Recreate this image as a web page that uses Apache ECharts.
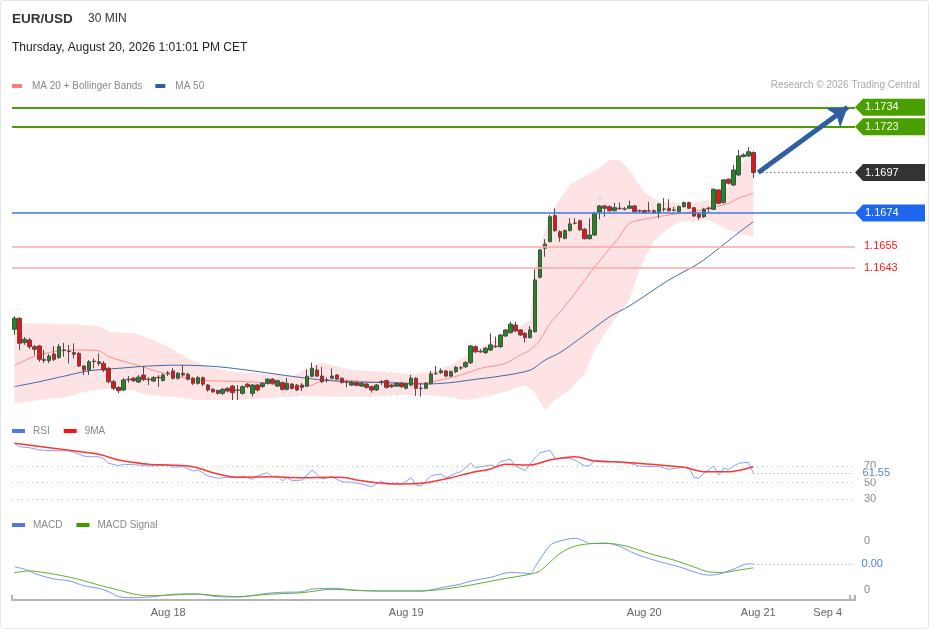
<!DOCTYPE html>
<html><head><meta charset="utf-8">
<script src="https://cdn.jsdelivr.net/npm/echarts@6/dist/echarts.min.js"></script>
<style>
html,body{margin:0;padding:0;background:#fff;}
#c{width:929px;height:629px;}
#frame{position:absolute;left:0;top:0;width:929px;height:629px;box-sizing:border-box;border:1px solid #e3e8ee;border-radius:3px;pointer-events:none;}
</style></head><body>
<div id="c"></div><div id="frame"></div>
<script>
// ---------- DATA ----------
const candleOpen = [1.16080,1.16142,1.16004,1.16019,1.15981,1.15985,1.15909,1.15901,1.15939,1.15920,
1.15959,1.15956,1.15947,1.15943,1.15871,1.15848,1.15899,1.15895,1.15886,1.15858,
1.15782,1.15749,1.15735,1.15796,1.15802,1.15780,1.15820,1.15796,1.15786,1.15807,
1.15789,1.15831,1.15843,1.15802,1.15830,1.15824,1.15802,1.15773,1.15805,1.15763,
1.15739,1.15732,1.15716,1.15744,1.15757,1.15735,1.15716,1.15768,1.15716,1.15763,
1.15755,1.15773,1.15796,1.15757,1.15777,1.15739,1.15769,1.15762,1.15763,1.15757,
1.15813,1.15848,1.15814,1.15792,1.15802,1.15820,1.15802,1.15782,1.15763,1.15777,
1.15757,1.15769,1.15754,1.15735,1.15782,1.15788,1.15763,1.15757,1.15773,1.15745,
1.15763,1.15802,1.15745,1.15745,1.15773,1.15830,1.15833,1.15843,1.15814,1.15839,
1.15861,1.15867,1.15890,1.15981,1.15955,1.15947,1.15962,1.15983,1.15981,1.16042,
1.16060,1.16104,1.16076,1.16057,1.16032,1.16066,1.16375,1.16540,1.16577,1.16725,
1.16634,1.16596,1.16640,1.16683,1.16696,1.16648,1.16594,1.16615,1.16746,1.16780,
1.16776,1.16753,1.16767,1.16763,1.16767,1.16780,1.16753,1.16753,1.16753,1.16753,
1.16742,1.16763,1.16767,1.16757,1.16748,1.16776,1.16799,1.16770,1.16734,1.16719,
1.16767,1.16761,1.16871,1.16799,1.16932,1.16899,1.16956,1.17060,1.17064,1.17083];
const candleClose = [1.16142,1.16000,1.16023,1.15981,1.15966,1.15909,1.15903,1.15928,1.15909,1.15981,
1.15962,1.15953,1.15938,1.15871,1.15848,1.15895,1.15896,1.15886,1.15848,1.15782,
1.15745,1.15731,1.15792,1.15793,1.15788,1.15808,1.15794,1.15794,1.15805,1.15804,
1.15820,1.15830,1.15802,1.15830,1.15820,1.15796,1.15773,1.15805,1.15768,1.15735,
1.15725,1.15716,1.15739,1.15729,1.15720,1.15733,1.15754,1.15754,1.15763,1.15735,
1.15773,1.15796,1.15773,1.15788,1.15739,1.15773,1.15744,1.15735,1.15750,1.15813,
1.15858,1.15814,1.15782,1.15790,1.15814,1.15797,1.15777,1.15780,1.15779,1.15762,
1.15773,1.15750,1.15735,1.15763,1.15781,1.15750,1.15754,1.15773,1.15754,1.15769,
1.15802,1.15745,1.15743,1.15773,1.15826,1.15828,1.15844,1.15814,1.15839,1.15864,
1.15860,1.15890,1.15985,1.15952,1.15952,1.15972,1.15991,1.15981,1.16047,1.16076,
1.16109,1.16070,1.16047,1.16032,1.16076,1.16360,1.16530,1.16564,1.16719,1.16640,
1.16602,1.16640,1.16678,1.16682,1.16644,1.16594,1.16615,1.16738,1.16780,1.16767,
1.16753,1.16770,1.16766,1.16762,1.16780,1.16748,1.16752,1.16742,1.16752,1.16742,
1.16791,1.16761,1.16753,1.16755,1.16776,1.16799,1.16767,1.16723,1.16716,1.16761,
1.16765,1.16875,1.16795,1.16928,1.16909,1.16984,1.17064,1.17070,1.17088,1.16970];
const candleHigh = [1.16155,1.16149,1.16036,1.16030,1.15991,1.15991,1.15962,1.15939,1.15985,1.15996,
1.16002,1.15991,1.16000,1.15951,1.15876,1.15905,1.15915,1.15943,1.15899,1.15865,
1.15792,1.15757,1.15803,1.15814,1.15808,1.15820,1.15871,1.15808,1.15814,1.15820,
1.15830,1.15843,1.15860,1.15837,1.15876,1.15834,1.15808,1.15814,1.15811,1.15769,
1.15746,1.15738,1.15746,1.15752,1.15763,1.15763,1.15760,1.15775,1.15769,1.15769,
1.15780,1.15803,1.15803,1.15794,1.15783,1.15803,1.15775,1.15769,1.15775,1.15852,
1.15890,1.15876,1.15867,1.15807,1.15858,1.15826,1.15807,1.15792,1.15786,1.15783,
1.15780,1.15775,1.15760,1.15769,1.15792,1.15794,1.15769,1.15780,1.15780,1.15775,
1.15820,1.15808,1.15773,1.15780,1.15844,1.15871,1.15858,1.15848,1.15846,1.15871,
1.15871,1.15899,1.15991,1.15988,1.15968,1.15979,1.16057,1.16038,1.16053,1.16081,
1.16123,1.16123,1.16081,1.16064,1.16098,1.16420,1.16536,1.16591,1.16729,1.16767,
1.16641,1.16646,1.16710,1.16710,1.16703,1.16655,1.16710,1.16746,1.16786,1.16786,
1.16783,1.16797,1.16799,1.16774,1.16810,1.16786,1.16760,1.16760,1.16804,1.16760,
1.16797,1.16824,1.16818,1.16776,1.16783,1.16805,1.16805,1.16774,1.16740,1.16769,
1.16776,1.16879,1.16876,1.16933,1.16936,1.17013,1.17098,1.17079,1.17113,1.17089];
const candleLow = [1.16048,1.15962,1.15991,1.15968,1.15934,1.15895,1.15888,1.15888,1.15899,1.15911,
1.15924,1.15886,1.15915,1.15865,1.15820,1.15820,1.15858,1.15871,1.15837,1.15773,
1.15735,1.15716,1.15729,1.15777,1.15780,1.15775,1.15786,1.15763,1.15780,1.15752,
1.15783,1.15814,1.15794,1.15794,1.15811,1.15789,1.15763,1.15766,1.15757,1.15726,
1.15718,1.15709,1.15706,1.15721,1.15678,1.15678,1.15709,1.15746,1.15697,1.15726,
1.15746,1.15766,1.15766,1.15752,1.15732,1.15732,1.15738,1.15729,1.15729,1.15752,
1.15808,1.15808,1.15775,1.15777,1.15797,1.15792,1.15772,1.15750,1.15757,1.15755,
1.15752,1.15743,1.15720,1.15729,1.15763,1.15743,1.15746,1.15752,1.15746,1.15738,
1.15757,1.15701,1.15697,1.15738,1.15766,1.15820,1.15826,1.15808,1.15808,1.15831,
1.15848,1.15860,1.15882,1.15945,1.15945,1.15939,1.15956,1.15973,1.15973,1.16036,
1.16056,1.16064,1.16042,1.16004,1.16027,1.16061,1.16368,1.16492,1.16573,1.16632,
1.16577,1.16590,1.16635,1.16675,1.16638,1.16590,1.16590,1.16610,1.16704,1.16719,
1.16746,1.16749,1.16757,1.16754,1.16763,1.16743,1.16742,1.16737,1.16740,1.16734,
1.16710,1.16748,1.16749,1.16749,1.16743,1.16771,1.16763,1.16717,1.16700,1.16712,
1.16742,1.16757,1.16791,1.16794,1.16902,1.16893,1.16950,1.17055,1.17058,1.16939];

// [candle index, value] readings of the indicator lines
const ma20 = [[0,1.15873],[3,1.15915],[5,1.15934],[9,1.15958],[13,1.15962],[17,1.15958],[19,1.15924],[24,1.15882],[29,1.15839],[33,1.15811],[37,1.15792],[41,1.15786],[47,1.15782],[51,1.15773],[56,1.15750],[60,1.15763],[62,1.15788],[66,1.15792],[71,1.15782],[78,1.15777],[82,1.15773],[86,1.15792],[90,1.15820],[94,1.15858],[99,1.15886],[102,1.15934],[104,1.15962],[106,1.16020],[108,1.16113],[110,1.16178],[112,1.16246],[116,1.16397],[119,1.16502],[122,1.16606],[124,1.16681],[128,1.16710],[132,1.16729],[137,1.16748],[140,1.16767],[144,1.16795],[146,1.16824],[149,1.16852]];
const ma50 = [[0,1.15754],[5,1.15782],[11,1.15820],[15,1.15844],[21,1.15858],[27,1.15871],[33,1.15876],[41,1.15867],[48,1.15844],[54,1.15820],[58,1.15805],[62,1.15792],[67,1.15782],[74,1.15777],[83,1.15769],[88,1.15777],[92,1.15792],[98,1.15814],[104,1.15848],[107,1.15905],[110,1.15947],[115,1.16047],[120,1.16151],[124,1.16212],[132,1.16360],[138,1.16454],[142,1.16538],[145,1.16606],[149,1.16691]];
const bbUpper = [[0,1.16117],[3,1.16114],[11,1.16110],[17,1.16098],[19,1.16066],[24,1.16057],[27,1.16029],[31,1.15981],[35,1.15915],[39,1.15867],[44,1.15839],[51,1.15826],[56,1.15814],[59,1.15858],[62,1.15890],[68,1.15848],[74,1.15839],[80,1.15826],[84,1.15839],[88,1.15876],[92,1.15943],[98,1.16038],[102,1.16095],[104,1.16132],[105,1.16435],[107,1.16644],[109,1.16776],[112,1.16899],[115,1.16950],[118,1.16996],[120,1.17041],[122,1.17041],[124,1.16984],[127,1.16859],[130,1.16804],[136,1.16795],[140,1.16814],[144,1.16890],[146,1.17003],[149,1.17098]];
const bbLower = [[0,1.15659],[5,1.15678],[11,1.15697],[14,1.15725],[19,1.15745],[24,1.15731],[27,1.15706],[32,1.15697],[37,1.15678],[44,1.15678],[51,1.15688],[58,1.15701],[64,1.15697],[71,1.15697],[78,1.15706],[83,1.15706],[87,1.15697],[91,1.15678],[95,1.15697],[99,1.15725],[103,1.15763],[105,1.15716],[107,1.15621],[109,1.15678],[112,1.15735],[115,1.15830],[117,1.15962],[120,1.16095],[124,1.16246],[126,1.16416],[129,1.16587],[132,1.16655],[134,1.16689],[140,1.16700],[144,1.16644],[149,1.16604]];
const rsi = [[0,97.5],[1,93.4],[3,92.2],[5,89.4],[8,88.5],[11,88.2],[12,86.6],[14,82.1],[15,81.3],[17,81.3],[18,78.5],[19,73.3],[21,70.4],[22,72.1],[25,71.2],[27,70.0],[31,71.2],[32,68.4],[34,69.2],[36,63.9],[37,65.2],[39,57.9],[41,55.2],[43,56.3],[45,55.8],[46,57.5],[48,53.9],[49,58.2],[51,61.9],[52,57.0],[53,58.2],[54,52.2],[55,55.8],[56,52.2],[58,53.0],[60,65.2],[62,54.2],[64,57.0],[66,51.0],[68,50.2],[70,48.2],[72,44.9],[74,51.8],[75,47.8],[77,49.4],[78,47.8],[80,55.8],[81,47.0],[82,45.8],[84,58.2],[86,60.3],[87,55.8],[89,61.2],[90,63.1],[92,73.6],[93,67.9],[96,71.2],[97,69.2],[98,75.2],[100,78.5],[101,70.0],[103,64.3],[105,80.1],[106,86.1],[108,89.0],[109,79.3],[112,79.3],[113,77.3],[115,70.0],[116,70.4],[117,76.4],[119,76.4],[122,74.5],[124,73.3],[126,70.0],[129,69.2],[130,69.2],[132,66.0],[134,67.9],[136,68.4],[137,56.3],[138,55.1],[139,61.2],[141,70.0],[142,59.1],[143,67.2],[144,66.0],[146,73.3],[148,74.5],[149,61.55]];
const rsiMa = [[0,97.5],[7,92.2],[17,84.2],[21,77.3],[27,72.1],[31,71.2],[36,69.2],[41,60.3],[45,56.3],[51,57.0],[58,55.8],[64,56.3],[67,55.8],[69,53.0],[73,49.8],[78,48.2],[82,49.0],[88,55.8],[92,61.9],[96,66.4],[99,72.1],[104,71.2],[108,77.3],[113,81.3],[117,76.1],[123,74.5],[130,71.2],[135,68.4],[139,63.1],[144,63.1],[149,69.2]];
const macd = [[0,-0.000027],[2,-0.000074],[4,-0.000161],[8,-0.000277],[11,-0.000312],[14,-0.000413],[17,-0.000466],[19,-0.000535],[21,-0.000636],[24,-0.000657],[28,-0.000636],[33,-0.000582],[37,-0.000582],[41,-0.000636],[45,-0.000642],[51,-0.000567],[54,-0.000547],[58,-0.000535],[60,-0.000480],[65,-0.000466],[68,-0.000500],[73,-0.000521],[82,-0.000521],[86,-0.000454],[90,-0.000379],[92,-0.000318],[96,-0.000243],[100,-0.000141],[104,-0.000161],[105,-0.000027],[108,0.000413],[110,0.000500],[113,0.000555],[115,0.000494],[116,0.000448],[119,0.000460],[122,0.000393],[125,0.000245],[129,0.000109],[134,-0.000027],[138,-0.000161],[140,-0.000196],[142,-0.000176],[145,-0.000074],[148,0.000035],[149,0.000027]];
const macdSignal = [[0,-0.000149],[3,-0.000109],[5,-0.000129],[9,-0.000196],[13,-0.000283],[17,-0.000399],[21,-0.000500],[24,-0.000582],[27,-0.000616],[32,-0.000602],[36,-0.000582],[41,-0.000616],[45,-0.000636],[51,-0.000588],[58,-0.000555],[64,-0.000486],[71,-0.000515],[82,-0.000521],[90,-0.000433],[98,-0.000283],[104,-0.000176],[106,-0.000109],[110,0.000245],[113,0.000393],[117,0.000448],[120,0.000448],[124,0.000379],[128,0.000245],[133,0.000109],[137,-0.000027],[140,-0.000129],[143,-0.000141],[146,-0.000094],[149,-0.000048]];

const resistanceLevels = [1.1734, 1.1723];
const lastPrice = 1.1697;
const pivotLevel = 1.1674;
const supportLevels = [1.1655, 1.1643];
const targetLevel = 1.1734;
const rsiLast = 61.55;
const macdLast = 0.000027;

const xLabelIndex = [31, 79, 127, 150, 164];
const xLabelText = ['Aug 18', 'Aug 19', 'Aug 20', 'Aug 21', 'Sep 4'];
const slotCount = 170;

// ---------- BUILD ----------
const cats = Array.from({length: slotCount}, (_, i) => 'c' + i);
const ohlc = candleOpen.map((o, i) => [o, candleClose[i], candleLow[i], candleHigh[i]]);
const lastIdx = candleOpen.length - 1;
const FONT = 'Liberation Sans, Arial, sans-serif';

const chart = echarts.init(document.getElementById('c'), null, {renderer: 'canvas'});

const gridL = 12, gridR = 74;
const xAxisBase = (gi, show) => ({
  type: 'category', gridIndex: gi, data: cats, boundaryGap: true, show: show
});
const supportLabel = {show: true, position: 'end', distance: 9, color: '#ff1a1a', fontSize: 11, fontFamily: FONT,
  formatter: (p) => Number(p.value).toFixed(4)};

const option = {
  animation: false,
  textStyle: {fontFamily: FONT},
  title: [
    {text: 'EUR/USD', left: 12, top: 12, padding: 0, textStyle: {fontSize: 13.5, fontWeight: 'bold', color: '#333', fontFamily: FONT}},
    {text: '30 MIN', left: 88, top: 13, padding: 0, textStyle: {fontSize: 12, fontWeight: 'normal', color: '#333', fontFamily: FONT}},
    {text: 'Thursday, August 20, 2026 1:01:01 PM CET', left: 12, top: 42, padding: 0, textStyle: {fontSize: 12, fontWeight: 'normal', color: '#222', fontFamily: FONT}},
    {text: 'Research \u00A9 2026 Trading Central', right: 9, top: 80, padding: 0, textStyle: {fontSize: 10, fontWeight: 'normal', color: '#a9a9a9', fontFamily: FONT}}
  ],
  legend: [
    {data: ['MA 20 + Bollinger Bands', 'MA 50'], left: 12, top: 81, padding: 0, icon: 'rect', itemWidth: 10, itemHeight: 4, itemGap: 13,
      textStyle: {fontSize: 10, color: '#888', fontFamily: FONT, padding: [0, 0, 0, 5]}},
    {data: ['RSI', '9MA'], left: 12, top: 426, padding: 0, icon: 'rect', itemWidth: 13, itemHeight: 4, itemGap: 14,
      textStyle: {fontSize: 10, color: '#888', fontFamily: FONT, padding: [0, 0, 0, 3]}},
    {data: ['MACD', 'MACD Signal'], left: 12, top: 520, padding: 0, icon: 'rect', itemWidth: 13, itemHeight: 4, itemGap: 14,
      textStyle: {fontSize: 10, color: '#888', fontFamily: FONT, padding: [0, 0, 0, 3]}}
  ],
  grid: [
    {left: gridL, right: gridR, top: 95, height: 320},
    {left: gridL, right: gridR, top: 466, height: 33},
    {left: gridL, right: gridR, top: 541, height: 49}
  ],
  xAxis: [
    xAxisBase(0, false),
    xAxisBase(1, false),
    Object.assign(xAxisBase(2, true), {
      offset: 10,
      axisLine: {show: true, onZero: false, lineStyle: {color: '#b4b4b4', width: 2}},
      axisTick: {show: true, inside: true, length: 5, lineStyle: {color: '#b4b4b4', width: 2},
        interval: (i) => i === 0 || i === slotCount - 1},
      axisLabel: {
        color: '#666', fontSize: 11, margin: 7, fontFamily: FONT,
        interval: (i) => xLabelIndex.indexOf(i) >= 0,
        formatter: (v, i) => { const k = xLabelIndex.indexOf(i); return k >= 0 ? xLabelText[k] : ''; }
      }
    })
  ],
  yAxis: [
    {type: 'value', gridIndex: 0, min: 1.15593, max: 1.17410, show: false},
    {type: 'value', gridIndex: 1, position: 'right', min: 30, max: 70, interval: 20,
      axisLine: {show: false}, axisTick: {show: false},
      axisLabel: {color: '#888', fontSize: 11, margin: 9, fontFamily: FONT},
      splitLine: {show: true, lineStyle: {color: '#bdbdbd', type: [1, 4], width: 1}}},
    {type: 'value', gridIndex: 2, position: 'right', min: -0.0005, max: 0.0005, interval: 0.001,
      axisLine: {show: false}, axisTick: {show: false}, splitLine: {show: false},
      axisLabel: {color: '#888', fontSize: 11, margin: 9, fontFamily: FONT, formatter: (v) => String(Math.round(v))}}
  ],
  series: [
    {
      type: 'custom', name: 'bands', xAxisIndex: 0, yAxisIndex: 0, silent: true, z: 1,
      data: [0],
      renderItem: function (params, api) {
        const pts = [];
        for (let k = 0; k < bbUpper.length; k++) pts.push(api.coord(bbUpper[k]));
        for (let k = bbLower.length - 1; k >= 0; k--) pts.push(api.coord(bbLower[k]));
        return {type: 'polygon', shape: {points: pts}, style: {fill: '#fde3e3'}};
      }
    },
    {type: 'line', name: 'MA 20 + Bollinger Bands', xAxisIndex: 0, yAxisIndex: 0, data: ma20, smooth: 0.3,
      showSymbol: false, z: 2, color: '#ff7b7b', lineStyle: {color: '#ff8e8e', width: 1}},
    {type: 'line', name: 'MA 50', xAxisIndex: 0, yAxisIndex: 0, data: ma50, smooth: 0.3,
      showSymbol: false, z: 2, color: '#2f5c9e', lineStyle: {color: '#4169aa', width: 1}},
    {
      type: 'candlestick', name: 'EUR/USD', xAxisIndex: 0, yAxisIndex: 0, data: ohlc, barWidth: 4, z: 3,
      itemStyle: {color: '#1e8a1e', color0: '#ee1111', borderColor: '#4a4a4a', borderColor0: '#5a4a4a', borderWidth: 1}
    },
    {
      type: 'line', name: 'levels', xAxisIndex: 0, yAxisIndex: 0, data: [], z: 4, showSymbol: false,
      markLine: {
        silent: true, symbol: ['none', 'none'], animation: false, precision: 5,
        data: [
          {yAxis: resistanceLevels[0], lineStyle: {color: '#4a9f00', width: 2, type: 'solid'}, label: {show: false}},
          {yAxis: resistanceLevels[1], lineStyle: {color: '#4a9f00', width: 2, type: 'solid'}, label: {show: false}},
          {yAxis: pivotLevel, lineStyle: {color: '#3f78e6', width: 1.5, type: 'solid'}, label: {show: false}},
          {yAxis: supportLevels[0], lineStyle: {color: '#f7a8a8', width: 1.5, type: 'solid'}, label: supportLabel},
          {yAxis: supportLevels[1], lineStyle: {color: '#f7a8a8', width: 1.5, type: 'solid'}, label: supportLabel},
          [{coord: ['c' + (lastIdx + 1), lastPrice], lineStyle: {color: '#333', width: 1, type: [1, 3]}, label: {show: false}},
           {coord: ['c' + (slotCount - 1), lastPrice]}],
          [{coord: ['c' + (lastIdx + 1), lastPrice], symbol: 'none', lineStyle: {color: '#2f5f9e', width: 5, type: 'solid'}, label: {show: false}},
           {coord: ['c' + (slotCount - 2), targetLevel], symbol: 'arrow', symbolSize: 18}]
        ]
      }
    },
    {type: 'line', name: 'RSI', xAxisIndex: 1, yAxisIndex: 1, data: rsi, showSymbol: false, clip: false, z: 2,
      color: '#4e7be6', lineStyle: {color: '#84a3ef', width: 1},
      markLine: {silent: true, symbol: ['none', 'none'], animation: false, precision: 5,
        data: [[{coord: ['c' + lastIdx, rsiLast], lineStyle: {color: '#6d8fe8', width: 1, type: [1, 3]},
          label: {show: true, position: 'end', distance: 9, color: '#5b7fe0', fontSize: 11, fontFamily: FONT,
            backgroundColor: '#fff', padding: [0, 2, 0, 1], formatter: () => rsiLast.toFixed(2)}},
          {coord: ['c' + (slotCount - 1), rsiLast]}]]}},
    {type: 'line', name: '9MA', xAxisIndex: 1, yAxisIndex: 1, data: rsiMa, smooth: 0.3, showSymbol: false, clip: false, z: 3,
      color: '#ff1010', lineStyle: {color: '#ff3535', width: 1.5}},
    {type: 'line', name: 'MACD', xAxisIndex: 2, yAxisIndex: 2, data: macd, smooth: 0.3, showSymbol: false, clip: false, z: 2,
      color: '#4e7be6', lineStyle: {color: '#7896ec', width: 1},
      markLine: {silent: true, symbol: ['none', 'none'], animation: false, precision: 7,
        data: [[{coord: ['c' + lastIdx, macdLast], lineStyle: {color: '#6d8fe8', width: 1, type: [1, 3]},
          label: {show: true, position: 'end', distance: 9, color: '#5b7fe0', fontSize: 11, fontFamily: FONT,
            backgroundColor: '#fff', formatter: () => macdLast.toFixed(2)}},
          {coord: ['c' + (slotCount - 1), macdLast]}]]}},
    {type: 'line', name: 'MACD Signal', xAxisIndex: 2, yAxisIndex: 2, data: macdSignal, smooth: 0.3, showSymbol: false, clip: false, z: 3,
      color: '#3f9a00', lineStyle: {color: '#62ad2a', width: 1}}
  ]
};
chart.setOption(option);

// ---------- price tags (y from the price scale) ----------
const tagLevels = [resistanceLevels[0], resistanceLevels[1], lastPrice, pivotLevel];
const tagColors = ['#4a9f00', '#4a9f00', '#333333', '#1f66ef'];
const tagLeft = 929 - gridR, tagRight = 925, tagHalf = 8.5, tagTip = 8;
const gfx = [];
tagLevels.forEach((v, k) => {
  const y = chart.convertToPixel({yAxisIndex: 0}, v);
  gfx.push({type: 'polygon', silent: true, z: 50,
    shape: {points: [[tagLeft, y], [tagLeft + tagTip, y - tagHalf], [tagRight, y - tagHalf], [tagRight, y + tagHalf], [tagLeft + tagTip, y + tagHalf]]},
    style: {fill: tagColors[k]}});
  gfx.push({type: 'text', silent: true, z: 51, x: tagLeft + 10, y: y,
    style: {text: v.toFixed(4), fill: '#fff', font: '11px ' + FONT, textVerticalAlign: 'middle', verticalAlign: 'middle'}});
});
chart.setOption({graphic: gfx});
</script>
</body></html>
